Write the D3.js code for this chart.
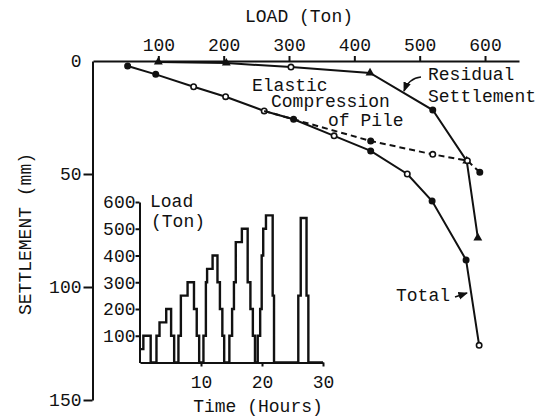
<!DOCTYPE html>
<html>
<head>
<meta charset="utf-8">
<script src="https://cdn.jsdelivr.net/npm/d3@7/dist/d3.min.js"></script>
<style>
  body { margin: 0; background: #fff; }
  text { font-family: "Liberation Mono", "DejaVu Sans Mono", monospace; fill: #111; }
</style>
</head>
<body>
<div id="chart"></div>
<script>
// main plot: load (ton) vs settlement (mm)
var totalLoad = [53, 96, 154, 203, 262, 307, 369, 425, 481, 519, 571, 591];
var totalSettle = [2.2, 5.9, 11.4, 15.8, 22.1, 25.8, 33.1, 39.8, 50.0, 62.0, 88.0, 125.8];
var totalMark = ["f", "f", "o", "o", "o", "f", "o", "f", "o", "f", "f", "o"];

var elasticLoad = [262, 307, 425, 520, 573, 592];
var elasticSettle = [22.1, 25.8, 35.4, 41.3, 44.1, 49.2];
var elasticMark = ["", "", "f", "o", "o", "f"];

var residualLoad = [100, 204, 303, 424, 520, 572, 589];
var residualSettle = [0.4, 0.9, 2.7, 5.3, 21.7, 44.2, 78.3];
var residualMark = ["t", "t", "o", "t", "f", "t", "t"];

var loadTicks = [100, 200, 300, 400, 500, 600];
var settleTicks = [0, 50, 100, 150];

// inset: load history
var stepHours = [0, 0.55, 1.75, 2.7, 3.2, 4.3, 5.1, 5.6, 6.3, 6.7, 7.8, 8.85, 9.3, 9.7,
  10.4, 10.8, 11.0, 11.9, 12.7, 13.1, 13.5, 13.8, 14.65, 15.1, 15.4, 15.7, 16.7, 17.65,
  18.1, 18.5, 18.85, 19.3, 19.7, 19.95, 20.2, 20.65, 21.75, 21.97, 25.95, 26.35, 27.3, 27.6, 30];
var stepLoad = [50, 100, 0, 100, 150, 200, 100, 0, 100, 250, 300, 200, 100, 0,
  100, 300, 350, 400, 300, 200, 100, 0, 100, 200, 300, 450, 500, 300,
  200, 100, 0, 100, 200, 400, 500, 550, 250, 0, 250, 540, 250, 0, 0];
var hourTicks = [10, 20, 30];
var insetLoadTicks = [100, 200, 300, 400, 500, 600];

var svgWidth = 545;
var svgHeight = 418;

var svg = d3.select("#chart")
  .append("svg")
  .attr("width", svgWidth)
  .attr("height", svgHeight);

svg.append("rect").attr("width", svgWidth).attr("height", svgHeight).attr("fill", "#fff");

var xScale = d3.scaleLinear().domain([0, 652]).range([93, 519]);
var yScale = d3.scaleLinear().domain([0, 150]).range([61, 400]);

// axes
var xAxis = svg.append("g")
  .attr("transform", "translate(0,61)")
  .call(d3.axisTop(xScale).tickValues(loadTicks).tickSize(5).tickSizeOuter(0).tickPadding(5));

var yAxis = svg.append("g")
  .attr("transform", "translate(92.5,0)")
  .call(d3.axisLeft(yScale).tickValues(settleTicks).tickSize(9).tickSizeOuter(0).tickPadding(2));

yAxis.selectAll(".tick").filter(d => d === 0).select("line").remove();

svg.selectAll(".domain, .tick line").attr("stroke", "#111").attr("stroke-width", 2);
svg.selectAll(".tick text").attr("font-size", "18px").attr("fill", "#111");

svg.append("text")
  .attr("x", 299).attr("y", 22)
  .attr("text-anchor", "middle")
  .attr("font-size", "18px")
  .text("LOAD (Ton)");

svg.append("text")
  .attr("transform", "translate(31,234) rotate(-90)")
  .attr("text-anchor", "middle")
  .attr("font-size", "18px")
  .text("SETTLEMENT (mm)");

// curves
function drawCurve(loads, settles, marks, dash) {
  var pts = loads.map((d, i) => [d, settles[i], marks[i]]);
  var line = d3.line().x(d => xScale(d[0])).y(d => yScale(d[1]));
  svg.append("path")
    .datum(pts)
    .attr("d", line)
    .attr("fill", "none")
    .attr("stroke", "#111")
    .attr("stroke-width", 2)
    .attr("stroke-dasharray", dash || null);

  svg.selectAll(null)
    .data(pts.filter(d => d[2] === "f" || d[2] === "o"))
    .enter()
    .append("circle")
    .attr("cx", d => xScale(d[0]))
    .attr("cy", d => yScale(d[1]))
    .attr("r", 2.7)
    .attr("fill", d => d[2] === "f" ? "#111" : "#fff")
    .attr("stroke", "#111")
    .attr("stroke-width", 1.6);

  svg.selectAll(null)
    .data(pts.filter(d => d[2] === "t"))
    .enter()
    .append("path")
    .attr("d", d3.symbol().type(d3.symbolTriangle).size(34))
    .attr("transform", d => `translate(${xScale(d[0])},${yScale(d[1])})`)
    .attr("fill", "#111");
}

drawCurve(totalLoad, totalSettle, totalMark);
drawCurve(residualLoad, residualSettle, residualMark);
drawCurve(elasticLoad, elasticSettle, elasticMark, "6,4");

// labels
var notes = [
  ["Elastic", 252, 91],
  ["Compression", 271, 107],
  ["of Pile", 328, 126],
  ["Residual", 428, 80],
  ["Settlement", 428, 102],
  ["Total", 396, 301]
];
svg.selectAll(null)
  .data(notes)
  .enter()
  .append("text")
  .attr("x", d => d[1])
  .attr("y", d => d[2])
  .attr("font-size", "18px")
  .text(d => d[0]);

svg.append("defs").append("marker")
  .attr("id", "arr")
  .attr("viewBox", "0 0 10 10")
  .attr("refX", 9).attr("refY", 5)
  .attr("markerWidth", 6).attr("markerHeight", 6)
  .attr("orient", "auto")
  .append("path").attr("d", "M0,1 L10,5 L0,9 z").attr("fill", "#111");

svg.append("path")
  .attr("d", "M421,77 Q409,78 404,91")
  .attr("fill", "none").attr("stroke", "#111").attr("stroke-width", 1.6)
  .attr("marker-end", "url(#arr)");

svg.append("path")
  .attr("d", "M455,297 L467,293")
  .attr("fill", "none").attr("stroke", "#111").attr("stroke-width", 1.6)
  .attr("marker-end", "url(#arr)");

// inset
var xInset = d3.scaleLinear().domain([0, 30]).range([140, 323]);
var yInset = d3.scaleLinear().domain([0, 600]).range([362.5, 202]);

var insetX = svg.append("g")
  .attr("transform", "translate(0,362.5)")
  .call(d3.axisBottom(xInset).tickValues(hourTicks).tickSize(4).tickSizeOuter(0).tickPadding(9));

var insetY = svg.append("g")
  .attr("transform", "translate(139.5,0)")
  .call(d3.axisLeft(yInset).tickValues(insetLoadTicks).tickSize(4).tickSizeOuter(0).tickPadding(0));

svg.selectAll(".domain, .tick line").attr("stroke", "#111").attr("stroke-width", 2);
svg.selectAll(".tick text").attr("font-size", "18px").attr("fill", "#111");

var stepLine = d3.line()
  .x((d, i) => xInset(stepHours[i]))
  .y(d => yInset(d))
  .curve(d3.curveStepAfter);

svg.append("path")
  .datum(stepLoad)
  .attr("d", stepLine)
  .attr("fill", "none")
  .attr("stroke", "#111")
  .attr("stroke-width", 2.4);

svg.append("text").attr("x", 150).attr("y", 207).attr("font-size", "18px").text("Load");
svg.append("text").attr("x", 151).attr("y", 227).attr("font-size", "18px").text("(Ton)");
svg.append("text").attr("x", 258).attr("y", 412).attr("text-anchor", "middle").attr("font-size", "18px").text("Time (Hours)");
</script>
</body>
</html>
